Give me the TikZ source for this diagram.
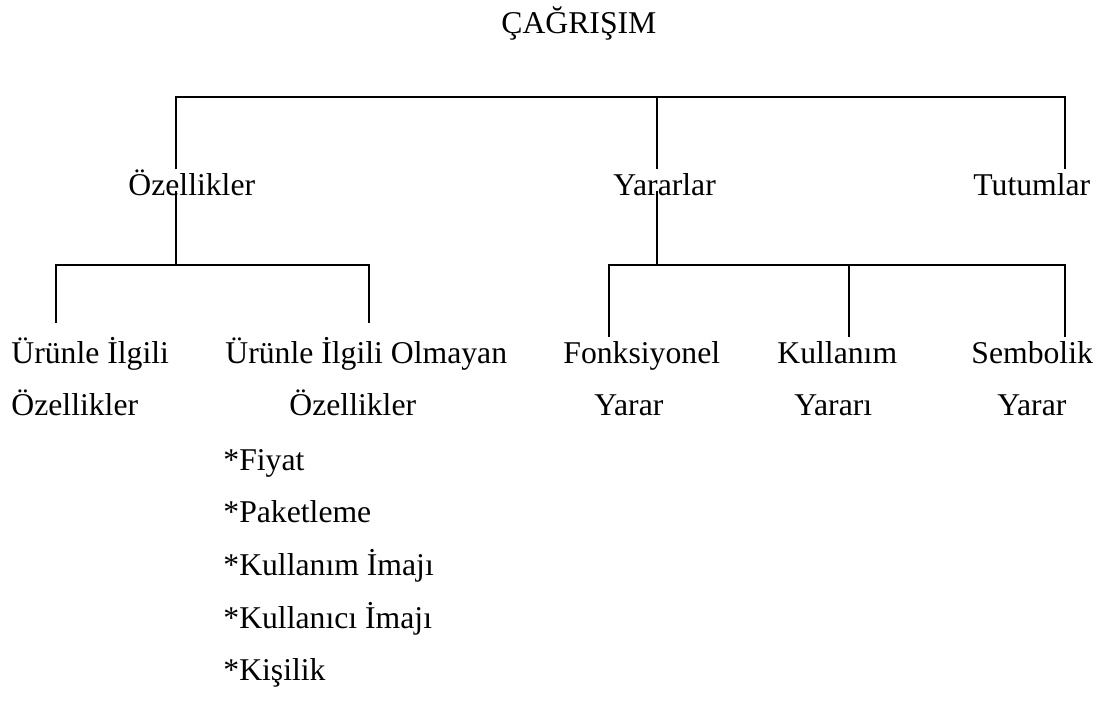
\documentclass[tikz,border=0pt]{standalone}
\usepackage{fontspec}
\setmainfont{Liberation Serif}
\begin{document}
\begin{tikzpicture}[x=0.5pt,y=-0.5pt,
  lbl/.style={inner sep=0pt, anchor=base west, font=\fontsize{15.85pt}{19pt}\selectfont},
  conn/.style={line width=1pt}]
\useasboundingbox (0,0) rectangle (1108,702);
% junction coordinates
\coordinate (barL) at (176,97);
\coordinate (barM) at (657,97);
\coordinate (barR) at (1065,97);
\coordinate (ozelT) at (176,169);
\coordinate (yararT) at (657,169);
\coordinate (tutumT) at (1065,169);
\coordinate (ozelB) at (176,191);
\coordinate (ozelJ) at (176,265);
\coordinate (yararB) at (657,191);
\coordinate (yararJ) at (657,265);
\coordinate (lbarL) at (56,265);
\coordinate (lbarR) at (369,265);
\coordinate (uigT) at (56,323);
\coordinate (uioT) at (369,323);
\coordinate (rbarL) at (609,265);
\coordinate (rbarM) at (849,265);
\coordinate (rbarR) at (1065,265);
\coordinate (fonT) at (609,337);
\coordinate (kulT) at (849,337);
\coordinate (semT) at (1065,337);
% connectors
\draw[conn] (ozelT) -- (barL) -- (barR) -- (tutumT);
\draw[conn] (barM) -- (yararT);
\draw[conn] (ozelB) -- (ozelJ);
\draw[conn] (uigT) -- (lbarL) -- (lbarR) -- (uioT);
\draw[conn] (yararB) -- (yararJ);
\draw[conn] (fonT) -- (rbarL) -- (rbarR) -- (semT);
\draw[conn] (rbarM) -- (kulT);
% labels
\node[lbl] (title) at (501,33) {ÇAĞRIŞIM};
\node[lbl] (ozel) at (128,195) {Özellikler};
\node[lbl] (yarar) at (613,195) {Yararlar};
\node[lbl] (tutum) at (973,195) {Tutumlar};
\node[lbl] (uig1) at (11,363) {Ürünle İlgili};
\node[lbl] (uig2) at (11,415) {Özellikler};
\node[lbl] (uio1) at (225,363) {Ürünle İlgili Olmayan};
\node[lbl] (uio2) at (289,415) {Özellikler};
\node[lbl] (fon1) at (563,363) {Fonksiyonel};
\node[lbl] (fon2) at (594,415) {Yarar};
\node[lbl] (kul1) at (777,363) {Kullanım};
\node[lbl] (kul2) at (794,415) {Yararı};
\node[lbl] (sem1) at (971,363) {Sembolik};
\node[lbl] (sem2) at (997,415) {Yarar};
\node[lbl] (li1) at (223,470) {*Fiyat};
\node[lbl] (li2) at (223,522) {*Paketleme};
\node[lbl] (li3) at (223,575) {*Kullanım İmajı};
\node[lbl] (li4) at (223,628) {*Kullanıcı İmajı};
\node[lbl] (li5) at (223,680) {*Kişilik};
\end{tikzpicture}
\end{document}
